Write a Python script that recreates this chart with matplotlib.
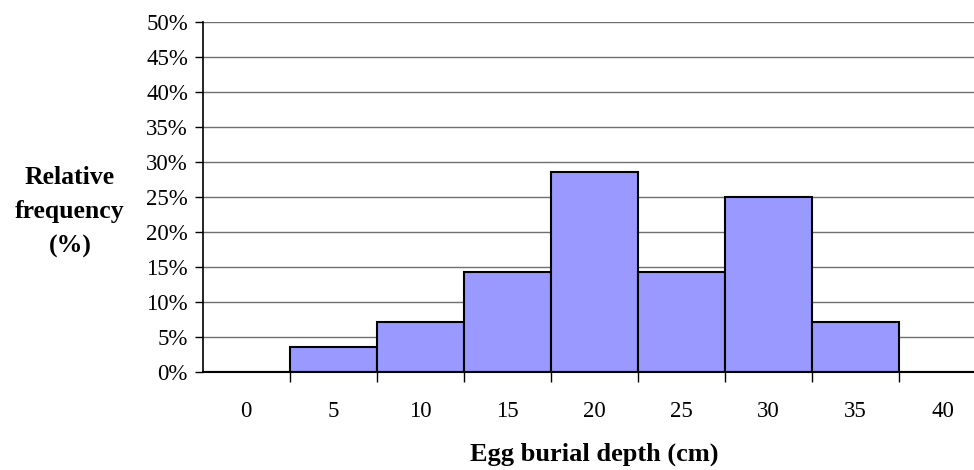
import matplotlib.pyplot as plt
from matplotlib.ticker import FuncFormatter, MultipleLocator

# Depth classes (cm) and share of nests in each class (%)
depths = [0, 5, 10, 15, 20, 25, 30, 35, 40]
rel_freq = [0.0, 3.57, 7.14, 14.29, 28.57, 14.29, 25.0, 7.14, 0.0]

plt.rcParams["font.family"] = ["Liberation Serif", "DejaVu Serif"]

fig = plt.figure(figsize=(9.74, 4.70), dpi=100)
# plot area runs slightly past the right edge of the figure
ax = fig.add_axes([202.5 / 974, 1 - 371.7 / 470, 783.5 / 974, 349.7 / 470])

pos = list(range(len(depths)))
ax.bar(pos, rel_freq, width=1.0, color="#9999FF", edgecolor="black",
       linewidth=1.5, zorder=3)

ax.set_xlim(-0.5, len(depths) - 0.5)
ax.set_ylim(0, 50)

ax.yaxis.set_major_locator(MultipleLocator(5))
ax.yaxis.set_major_formatter(FuncFormatter(lambda v, _: f"{v:.0f}%"))
ax.grid(axis="y", color="#707070", linewidth=1.0, zorder=0)

ax.set_xticks(pos)
ax.set_xticklabels([str(d) for d in depths])
ax.set_xticks([p + 0.5 for p in pos[:-1]], minor=True)
ax.tick_params(axis="x", which="major", length=0, pad=21, labelsize=16.5)
ax.tick_params(axis="x", which="minor", length=7, width=1, direction="out")
ax.tick_params(axis="y", length=5.5, width=1, direction="out", labelsize=16.5, pad=5)

for side in ("top", "right"):
    ax.spines[side].set_visible(False)
ax.spines["left"].set_linewidth(1.2)
ax.spines["bottom"].set_linewidth(1.5)
ax.spines["bottom"].set_zorder(4)

fig.text(70 / 974, 1 - 212 / 470, "Relative\nfrequency\n(%)", ha="center",
         va="center", fontsize=18.5, fontweight="bold", linespacing=1.65)
fig.text(594 / 974, 1 - 454 / 470, "Egg burial depth (cm)", ha="center",
         va="center", fontsize=19, fontweight="bold")

fig.savefig("out.png", dpi=100)
